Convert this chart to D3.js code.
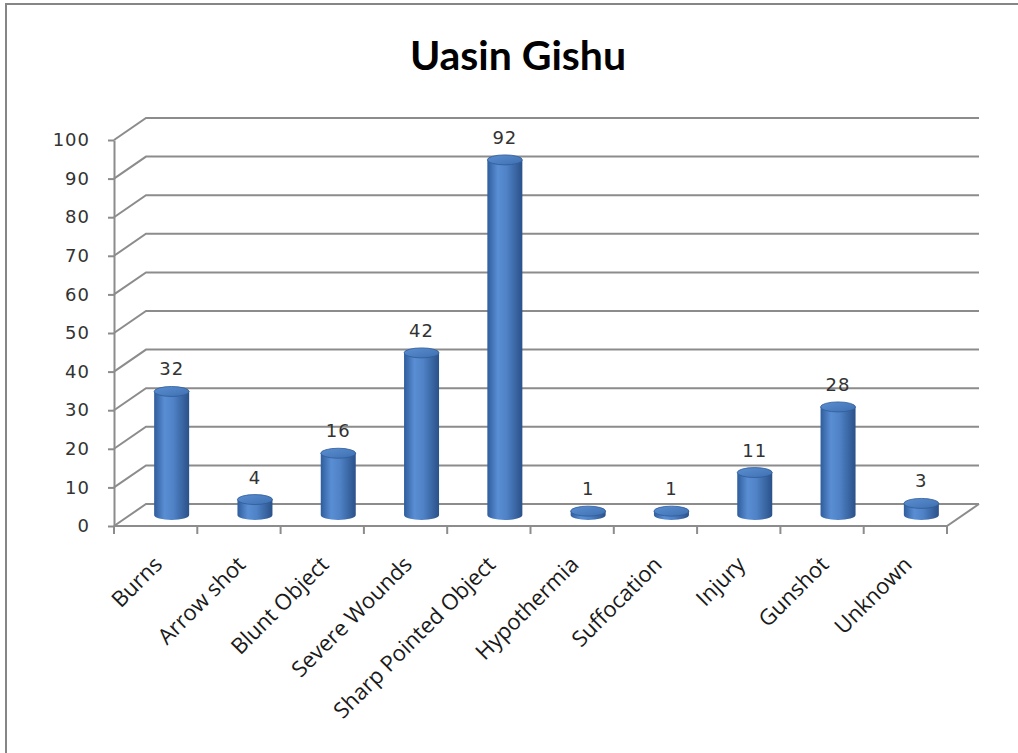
<!DOCTYPE html>
<html><head><meta charset="utf-8">
<script src="https://cdn.jsdelivr.net/npm/d3@7"></script>
<style>body{margin:0;background:#fff}svg{display:block}</style>
</head><body>
<svg id="c" width="1018" height="753"></svg>
<script>
const categories = ["Burns","Arrow shot","Blunt Object","Severe Wounds","Sharp Pointed Object","Hypothermia","Suffocation","Injury","Gunshot","Unknown"];
const values = [32,4,16,42,92,1,1,11,28,3];
const yTicks = [0,10,20,30,40,50,60,70,80,90,100];
const title = "Uasin Gishu";

const svg = d3.select("#c");
const DX = 32, DY = -22;          // depth offset of back wall
const x = d3.scaleBand().domain(categories).range([114, 947]).paddingInner(0).paddingOuter(0);
const y = d3.scaleLinear().domain([0,100]).range([526,140]);

svg.append("rect").attr("x",6).attr("y",4).attr("width",1100).attr("height",900)
  .attr("fill","#fff").attr("stroke","#868686").attr("stroke-width",2);

svg.append("text").attr("x",518).attr("y",70).attr("text-anchor","middle")
  .attr("font-family","Lato, 'Open Sans', sans-serif").attr("font-weight","bold")
  .attr("font-size",41).attr("fill","#000").text(title);

const defs = svg.append("defs");
const g1 = defs.append("linearGradient").attr("id","body").attr("x1","0").attr("x2","1").attr("y1","0").attr("y2","0");
[["0%","#2f5d9c"],["30%","#5a8ed4"],["55%","#4f82c6"],["100%","#2a5189"]].forEach(s=>g1.append("stop").attr("offset",s[0]).attr("stop-color",s[1]));
const g2 = defs.append("linearGradient").attr("id","top").attr("x1","0").attr("x2","1").attr("y1","0").attr("y2","1");
[["0%","#5b8fd2"],["100%","#3e6fb0"]].forEach(s=>g2.append("stop").attr("offset",s[0]).attr("stop-color",s[1]));

const grid = svg.append("g").attr("stroke","#8c8c8c").attr("stroke-width",2).attr("fill","none");
const x0 = x.range()[0], x1 = x.range()[1];
yTicks.forEach(t=>{
  const yy = y(t);
  grid.append("path").attr("d",`M${x0},${yy} L${x0+DX},${yy+DY} L${x1+DX},${yy+DY}`);
});
grid.append("path").attr("d",`M${x0},${y(0)} L${x1},${y(0)} L${x1+DX},${y(0)+DY}`);

const ya = svg.append("g").attr("transform",`translate(${x0},0)`)
  .call(d3.axisLeft(y).tickValues(yTicks).tickSize(6).tickSizeOuter(0).tickPadding(18));
ya.select(".domain").attr("stroke","#8c8c8c").attr("stroke-width",2);
ya.selectAll(".tick line").attr("stroke","#8c8c8c").attr("stroke-width",2);
ya.selectAll("text").attr("font-family","'DejaVu Sans', sans-serif").attr("font-size",18)
  .attr("letter-spacing","1px").attr("fill","#333");

const xa = svg.append("g");
const bounds = categories.map(c=>x(c)).concat([x1]);
bounds.forEach(b=>xa.append("line").attr("x1",b).attr("x2",b).attr("y1",y(0)).attr("y2",y(0)+8)
  .attr("stroke","#8c8c8c").attr("stroke-width",2));
categories.forEach(c=>{
  const cx = x(c)+x.bandwidth()/2;
  xa.append("text").attr("transform",`translate(${cx-3},${y(0)+29}) rotate(-45)`)
    .attr("text-anchor","end").attr("dy","0.7em")
    .attr("font-family","'Open Sans', sans-serif").attr("font-size",22).attr("fill","#1a1a1a").text(c);
});

const RX = 17.5, RY = 5;
const bars = svg.append("g");
categories.forEach((c,i)=>{
  const v = values[i];
  const cx = x(c)+x.bandwidth()/2 + DX/2;
  const yb = y(0)+DY/2, yt = y(v)+DY/2;
  const g = bars.append("g");
  g.append("path").attr("d",
    `M${cx-RX},${yt} L${cx-RX},${yb} A${RX},${RY} 0 0 0 ${cx+RX},${yb} L${cx+RX},${yt} Z`)
    .attr("fill","url(#body)");
  g.append("ellipse").attr("cx",cx).attr("cy",yt).attr("rx",RX).attr("ry",RY)
    .attr("fill","url(#top)").attr("stroke","#2f5c98").attr("stroke-width",0.8);
  svg.append("text").attr("x",cx).attr("y",yt-RY-11).attr("text-anchor","middle")
    .attr("font-family","'DejaVu Sans', sans-serif").attr("font-size",18).attr("letter-spacing","1px")
    .attr("fill","#333").text(v);
});
</script>
</body></html>
